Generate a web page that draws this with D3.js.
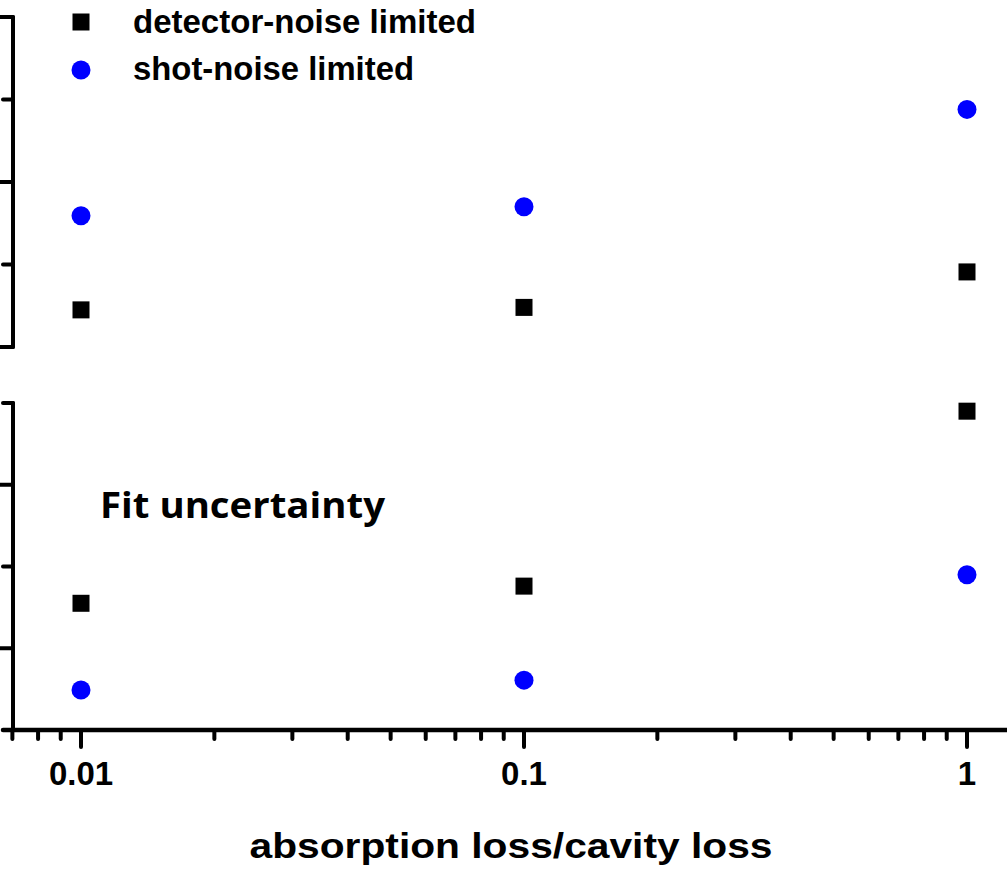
<!DOCTYPE html>
<html>
<head>
<meta charset="utf-8">
<script src="https://cdn.jsdelivr.net/npm/d3@7"></script>
<style>
  html, body { margin: 0; padding: 0; background: #fff; }
  svg { display: block; }
</style>
</head>
<body>
<svg id="chart" width="1007" height="873"></svg>
<script>
// Ratio of absorption loss to cavity loss (x values)
const ratios = [0.01, 0.1, 1];

// Upper panel
const upperDetector = [0.45, 0.48, 0.91];
const upperShot = [1.59, 1.70, 2.88];

// Lower panel: fit uncertainty
const lowerDetector = [1.55, 1.76, 3.90];
const lowerShot = [0.49, 0.61, 1.90];

// Axis ticks
const xMajorTicks = [0.01, 0.1, 1];
const xTickLabels = ["0.01", "0.1", "1"];
const xMinorTicks = [0.007, 0.008, 0.009, 0.02, 0.03, 0.04, 0.05, 0.06, 0.07, 0.08, 0.09,
                     0.2, 0.3, 0.4, 0.5, 0.6, 0.7, 0.8, 0.9];
const upperMajorTicks = [0, 2, 4];
const upperMinorTicks = [1, 3];
const lowerMajorTicks = [1, 3];
const lowerMinorTicks = [2, 4];

const legendLabels = ["detector-noise limited", "shot-noise limited"];
const legendWidths = [343, 281];
const panelLabel = "Fit uncertainty";
const xTitle = "absorption loss/cavity loss";

const svg = d3.select("#chart");
const ink = "#000";
const blue = "#0000ff";
const axisX = 13;

const x = d3.scaleLog().domain([0.01, 1]).range([81, 967]);
const yUpper = d3.scaleLinear().domain([0, 4]).range([347, 17]);
const yLower = d3.scaleLinear().domain([0, 4]).range([730, 403]);

// Left axis of a panel with outward ticks
function leftAxis(scale, majors, minors) {
  const g = svg.append("g");
  const [y0, y1] = scale.range();
  g.append("line").attr("x1", axisX).attr("x2", axisX).attr("y1", y0).attr("y2", y1)
    .attr("stroke", ink).attr("stroke-width", 4).attr("stroke-linecap", "round");
  g.selectAll(".maj").data(majors).join("line")
    .attr("x1", axisX).attr("x2", -4)
    .attr("y1", d => scale(d)).attr("y2", d => scale(d))
    .attr("stroke", ink).attr("stroke-width", 4).attr("stroke-linecap", "round");
  g.selectAll(".min").data(minors).join("line")
    .attr("x1", axisX).attr("x2", 3)
    .attr("y1", d => scale(d)).attr("y2", d => scale(d))
    .attr("stroke", ink).attr("stroke-width", 4).attr("stroke-linecap", "round");
}
leftAxis(yUpper, upperMajorTicks, upperMinorTicks);
leftAxis(yLower, lowerMajorTicks, lowerMinorTicks);

// Bottom axis (log)
const xAxisY = yLower(0);
const gx = svg.append("g");
gx.append("line").attr("x1", 3).attr("x2", 1010).attr("y1", xAxisY).attr("y2", xAxisY)
  .attr("stroke", ink).attr("stroke-width", 4.5).attr("stroke-linecap", "round");
gx.selectAll(".xmin").data(xMinorTicks).join("line")
  .attr("x1", d => x(d)).attr("x2", d => x(d))
  .attr("y1", xAxisY).attr("y2", xAxisY + 9)
  .attr("stroke", ink).attr("stroke-width", 4).attr("stroke-linecap", "round");
gx.selectAll(".xmaj").data(xMajorTicks).join("line")
  .attr("x1", d => x(d)).attr("x2", d => x(d))
  .attr("y1", xAxisY).attr("y2", xAxisY + 17)
  .attr("stroke", ink).attr("stroke-width", 4).attr("stroke-linecap", "round");
gx.selectAll(".xlab").data(xMajorTicks).join("text")
  .attr("x", d => x(d)).attr("y", 785)
  .attr("text-anchor", "middle")
  .attr("font-family", "'Liberation Sans', Arial, sans-serif")
  .attr("font-weight", "bold").attr("font-size", 33)
  .attr("fill", ink)
  .text((d, i) => xTickLabels[i]);

svg.append("text")
  .attr("x", 511).attr("y", 858)
  .attr("text-anchor", "middle")
  .attr("font-family", "'Liberation Sans', Arial, sans-serif")
  .attr("font-weight", "bold").attr("font-size", 35)
  .attr("textLength", 523).attr("lengthAdjust", "spacingAndGlyphs")
  .attr("fill", ink)
  .text(xTitle);

// Markers
const sq = 17, r = 9.5;
function squares(data, yScale) {
  svg.append("g").selectAll("rect").data(data).join("rect")
    .attr("x", (d, i) => x(ratios[i]) - sq / 2)
    .attr("y", d => yScale(d) - sq / 2)
    .attr("width", sq).attr("height", sq)
    .attr("fill", ink);
}
function circles(data, yScale) {
  svg.append("g").selectAll("circle").data(data).join("circle")
    .attr("cx", (d, i) => x(ratios[i]))
    .attr("cy", d => yScale(d))
    .attr("r", r)
    .attr("fill", blue);
}
squares(upperDetector, yUpper);
circles(upperShot, yUpper);
squares(lowerDetector, yLower);
circles(lowerShot, yLower);

// Legend
const legend = svg.append("g");
legend.append("rect").attr("x", 81 - sq / 2).attr("y", 22 - sq / 2)
  .attr("width", sq).attr("height", sq).attr("fill", ink);
legend.append("circle").attr("cx", 81).attr("cy", 70).attr("r", r).attr("fill", blue);
legend.selectAll("text").data(legendLabels).join("text")
  .attr("x", 133).attr("y", (d, i) => 33 + i * 47)
  .attr("font-family", "'Liberation Sans', Arial, sans-serif")
  .attr("font-weight", "bold").attr("font-size", 33)
  .attr("textLength", (d, i) => legendWidths[i]).attr("lengthAdjust", "spacingAndGlyphs")
  .attr("fill", ink)
  .text(d => d);

// Panel label
svg.append("text")
  .attr("x", 100).attr("y", 518)
  .attr("font-family", "'Open Sans', 'Noto Sans', sans-serif")
  .attr("font-weight", "bold").attr("font-size", 36)
  .attr("textLength", 285).attr("lengthAdjust", "spacingAndGlyphs")
  .attr("fill", ink)
  .text(panelLabel);
</script>
</body>
</html>
